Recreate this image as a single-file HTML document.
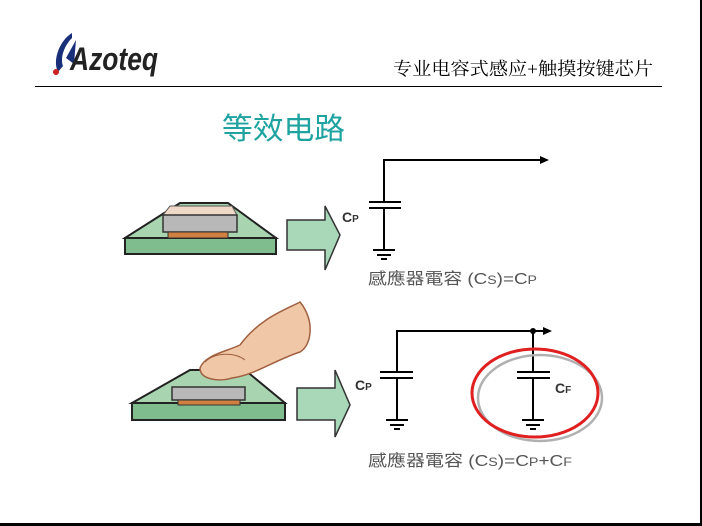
<!DOCTYPE html>
<html><head><meta charset="utf-8"><style>
body{margin:0;background:#fff;}
svg{display:block;}
</style></head><body>
<svg width="702" height="526" viewBox="0 0 702 526" xmlns="http://www.w3.org/2000/svg">
<rect width="702" height="526" fill="#fff"/>
<line x1="701" y1="0" x2="701" y2="526" stroke="#000" stroke-width="2"/>
<line x1="0" y1="524.5" x2="702" y2="524.5" stroke="#000" stroke-width="3"/>
<!-- logo -->
<path d="M72 33 C60 40 52 60 58 72 L63 66 C60 58 64 46 72 38 Z" fill="#1a2f7a"/>
<path d="M66 58 L76 40 L74 64 Z" fill="#1a2f7a"/>
<circle cx="56" cy="72" r="3" fill="#d02020"/>
<text x="70" y="70" font-family="Liberation Sans, sans-serif" font-size="32" font-weight="bold" font-style="italic" fill="#222" textLength="88" lengthAdjust="spacingAndGlyphs">Azoteq</text>
<text x="393" y="75" font-family="Liberation Serif, 'Noto Serif CJK SC', serif" font-size="18" fill="#000" textLength="260" lengthAdjust="spacingAndGlyphs">专业电容式感应+触摸按键芯片</text>
<line x1="35" y1="86.5" x2="662" y2="86.5" stroke="#000" stroke-width="1"/>
<text x="222" y="139" font-family="Liberation Sans, 'Noto Sans CJK SC', sans-serif" font-size="30" fill="#1fa3a0" textLength="123" lengthAdjust="spacingAndGlyphs">等效电路</text>
<!-- chip 1 -->
<polygon points="125,238 180,203 228,203 276,238" fill="#a8d4b0" stroke="#222" stroke-width="2"/>
<rect x="125" y="238" width="151" height="16" fill="#7fbc8e" stroke="#222" stroke-width="2"/>
<polygon points="163,215 170,206 232,206 237,215" fill="#f0d8c8" stroke="#555"/>
<rect x="163" y="215" width="74" height="17" fill="#b8b8b8" stroke="#333" stroke-width="1.5"/>
<rect x="168" y="232" width="60" height="6" fill="#d08040" stroke="#333"/>
<polygon points="287,220 325,220 325,206 340,235 325,270 325,250 287,250" fill="#a8d8b8" stroke="#333" stroke-width="1.5"/>
<!-- circuit 1 -->
<g stroke="#000" stroke-width="2" fill="none">
<polyline points="384,202 384,160 543,160"/>
<line x1="369" y1="202" x2="401" y2="202"/>
<line x1="369" y1="208" x2="401" y2="208"/>
<line x1="384" y1="208" x2="384" y2="249"/>
<line x1="373" y1="250" x2="395" y2="250"/>
<line x1="377" y1="255" x2="391" y2="255"/>
<line x1="381" y1="259" x2="387" y2="259"/>
</g>
<polygon points="540,156 549,160 540,164" fill="#000"/>
<text x="342" y="222" font-family="Liberation Sans, sans-serif" font-size="14" font-weight="bold" fill="#333">C<tspan font-size="10">P</tspan></text>
<text x="368" y="284" font-family="Liberation Sans, 'Noto Sans CJK TC', sans-serif" font-size="16" fill="#555" textLength="169" lengthAdjust="spacingAndGlyphs">感應器電容 (C<tspan font-size="12">S</tspan>)=C<tspan font-size="12">P</tspan></text>
<!-- chip 2 -->
<polygon points="132,403 190,370 245,370 285,403" fill="#a8d4b0" stroke="#222" stroke-width="2"/>
<rect x="132" y="403" width="153" height="17" fill="#7fbc8e" stroke="#222" stroke-width="2"/>
<rect x="172" y="387" width="73" height="13" fill="#b8b8b8" stroke="#333" stroke-width="1.5"/>
<rect x="178" y="400" width="62" height="5" fill="#d08040" stroke="#333"/>
<path d="M300 302 C285 310 260 318 240 345 C225 352 205 355 200 368 C200 380 220 382 232 378 C255 375 275 360 300 352 C312 345 315 320 300 302 Z" fill="#f0c8a8" stroke="#a06040" stroke-width="1.5"/>
<path d="M205 362 C215 352 235 352 245 360" fill="none" stroke="#a06040"/>
<polygon points="297,388 335,388 335,370 350,405 335,437 335,420 297,420" fill="#a8d8b8" stroke="#333" stroke-width="1.5"/>
<!-- circuit 2 -->
<g stroke="#000" stroke-width="2" fill="none">
<polyline points="397,372 397,331 545,331"/>
<line x1="380" y1="372" x2="413" y2="372"/>
<line x1="380" y1="378" x2="413" y2="378"/>
<line x1="397" y1="378" x2="397" y2="419"/>
<line x1="386" y1="420" x2="408" y2="420"/>
<line x1="390" y1="425" x2="404" y2="425"/>
<line x1="394" y1="429" x2="400" y2="429"/>
<line x1="533" y1="331" x2="533" y2="372"/>
<line x1="517" y1="372" x2="550" y2="372"/>
<line x1="517" y1="378" x2="550" y2="378"/>
<line x1="533" y1="378" x2="533" y2="419"/>
<line x1="522" y1="420" x2="544" y2="420"/>
<line x1="526" y1="425" x2="540" y2="425"/>
<line x1="530" y1="429" x2="536" y2="429"/>
</g>
<circle cx="533" cy="331" r="3" fill="#000"/>
<polygon points="543,327 552,331 543,335" fill="#000"/>
<ellipse cx="540" cy="398" rx="62" ry="43" fill="none" stroke="#b0b0b0" stroke-width="2.5"/>
<ellipse cx="535" cy="393" rx="63" ry="44" fill="none" stroke="#e02020" stroke-width="3"/>
<text x="355" y="390" font-family="Liberation Sans, sans-serif" font-size="14" font-weight="bold" fill="#333">C<tspan font-size="10">P</tspan></text>
<text x="555" y="393" font-family="Liberation Sans, sans-serif" font-size="14" font-weight="bold" fill="#333">C<tspan font-size="10">F</tspan></text>
<text x="368" y="466" font-family="Liberation Sans, 'Noto Sans CJK TC', sans-serif" font-size="16" fill="#555" textLength="204" lengthAdjust="spacingAndGlyphs">感應器電容 (C<tspan font-size="12">S</tspan>)=C<tspan font-size="12">P</tspan>+C<tspan font-size="12">F</tspan></text>
</svg>
</body></html>
